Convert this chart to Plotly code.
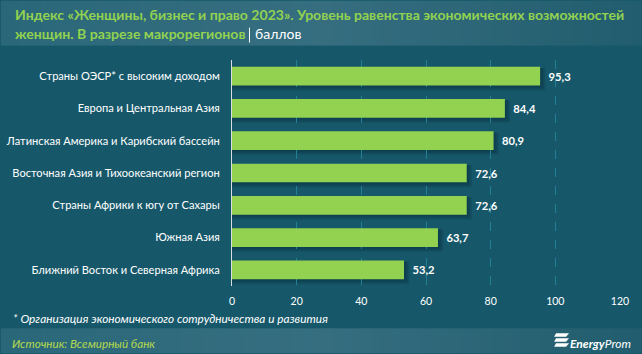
import plotly.graph_objects as go

categories = ["Страны ОЭСР* с высоким доходом", "Европа и Центральная Азия",
              "Латинская Америка и Карибский бассейн", "Восточная Азия и Тихоокеанский регион",
              "Страны Африки к югу от Сахары", "Южная Азия", "Ближний Восток и Северная Африка"]
values = [95.3, 84.4, 80.9, 72.6, 72.6, 63.7, 53.2]
labels = ["95,3", "84,4", "80,9", "72,6", "72,6", "63,7", "53,2"]
ticks = [0, 20, 40, 60, 80, 100, 120]

W, H = 642, 354
L, R, T, B = 231.5, 620.0, 59.5, 286.5
BG = "#16586a"
FONT = "Lato"
GREEN = "#92d250"

def px(x):
    return (x - L) / (R - L)

def py(y):
    return (B - y) / (B - T)

def lerp(a, b, t):
    return tuple(round(a[i] + (b[i] - a[i]) * t) for i in range(3))

def band(y0, y1):
    out = []
    c0, c1, c2 = (42, 104, 121), (54, 110, 128), (33, 93, 110)
    n = 64
    for i in range(n):
        t = i / (n - 1)
        c = lerp(c0, c1, t / 0.5) if t < 0.5 else lerp(c1, c2, (t - 0.5) / 0.5)
        out.append(dict(type="rect", xref="paper", yref="paper", x0=px(i * W / n), x1=px((i + 1.2) * W / n),
                        y0=py(y1), y1=py(y0), fillcolor="rgb(%d,%d,%d)" % c,
                        line_width=0, layer="below"))
    return out

shapes = band(0, 45) + band(329, 354)
for i, v in enumerate(values):
    for k in range(5):
        shapes.append(dict(type="rect", xref="x", yref="y", x0=0, x1=v + 0.3 + 0.35 * k,
                           y0=i - 0.25, y1=i + 0.31 + 0.035 * k,
                           fillcolor="rgba(8,45,60,0.14)", line_width=0, layer="below"))

fig = go.Figure(go.Bar(
    y=list(range(len(categories))), x=values, orientation="h", width=0.58,
    marker=dict(color=GREEN, line_width=0),
    text=["\u00a0\u00a0" + s for s in labels], textposition="outside", cliponaxis=False,
    textfont=dict(family=FONT, size=11.2, color="white", weight=700),
))

anns = [
    dict(x=px(12), y=py(22), text="<b>Индекс «Женщины, бизнес и право 2023». Уровень равенства экономических возможностей</b>",
         font=dict(color=GREEN, size=14.05)),
    dict(x=px(12), y=py(41), text="<b>женщин. В разрезе макрорегионов</b>", font=dict(color=GREEN, size=14.05)),
    dict(x=px(252.5), y=py(41), text="баллов", font=dict(color="white", size=14)),
    dict(x=px(10), y=py(327), text="<i>* Организация экономического сотрудничества и развития</i>",
         font=dict(color="white", size=11.8)),
    dict(x=px(9), y=py(351), text="<i>Источник: Всемирный банк</i>", font=dict(color="#b5d94f", size=11.7)),
    dict(x=px(568), y=py(352), text="<b><i>Energy</i></b><i>Prom</i>", font=dict(color="white", size=12)),
]
for a in anns:
    a.update(xref="paper", yref="paper", xanchor="left", yanchor="bottom", showarrow=False, yshift=-2)
    a["font"].setdefault("family", FONT)

shapes.append(dict(type="line", xref="paper", yref="paper", x0=px(249), x1=px(249), y0=py(42), y1=py(27),
                   line=dict(color="white", width=1)))
for y0 in (334, 339, 344):
    shapes.append(dict(type="path", xref="paper", yref="paper",
                       path="M %f %f L %f %f L %f %f L %f %f Z" % (
                           px(554), py(y0 + 3.6), px(566), py(y0 + 3.6), px(569), py(y0), px(556), py(y0)),
                       fillcolor="white", line_width=0))

fig.update_layout(
    width=W, height=H, autosize=False, paper_bgcolor=BG, plot_bgcolor=BG, showlegend=False,
    margin=dict(l=L, r=W - R, t=T, b=H - B, pad=0, autoexpand=False), font=dict(family=FONT, color="white", size=12),
    shapes=shapes, annotations=anns,
    xaxis=dict(range=[0, 120], tickvals=ticks, ticktext=[str(t) for t in ticks], showgrid=True,
               gridcolor="#237f96", griddash="dash", gridwidth=1, zeroline=False, showline=False, automargin=False,
               ticks="", tickfont=dict(size=10.5, color="white"), ticklabelstandoff=7),
    yaxis=dict(range=[6.5, -0.5], tickvals=list(range(len(categories))), ticktext=categories,
               showgrid=False, zeroline=False, showline=True, linecolor="#d5dde0", linewidth=1, automargin=False,
               ticks="", tickfont=dict(size=11.1, color="white"), ticklabelstandoff=9),
)
fig.write_html("out.html", config=dict(displayModeBar=False),
               post_script="document.body.style.margin='0';document.body.style.background='#16586a';")
